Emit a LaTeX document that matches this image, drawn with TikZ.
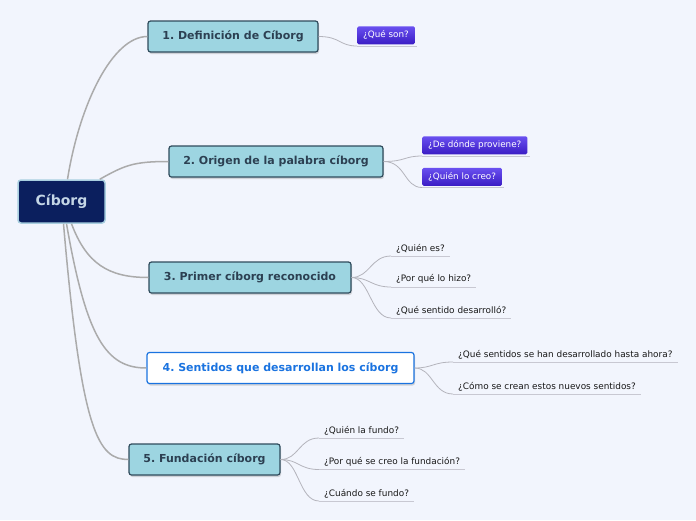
\documentclass[tikz,border=0pt]{standalone}
\usepackage{fontspec}
\setmainfont{DejaVu Sans}
\frenchspacing
\usetikzlibrary{shadows}
\definecolor{bg}{HTML}{F2F5FD}
\definecolor{rootfill}{HTML}{0B1F5E}
\definecolor{rootline}{HTML}{A9CFE0}
\definecolor{roottext}{HTML}{C4D6E6}
\definecolor{topicfill}{HTML}{9DD5E1}
\definecolor{topicline}{HTML}{2F4B5C}
\definecolor{topictext}{HTML}{2C4052}
\definecolor{selblue}{HTML}{1A73E0}
\definecolor{purpA}{HTML}{6A50F0}
\definecolor{purpB}{HTML}{3A1CC4}
\definecolor{mainline}{HTML}{ABABAB}
\definecolor{leafline}{HTML}{B4B4BC}
\definecolor{underl}{HTML}{C8C8D2}
\begin{document}
\begin{tikzpicture}[x=1pt,y=-1pt,
	root/.style={draw=rootline,fill=rootfill,line width=1.5pt,rounded corners=3pt,text=roottext,
		font=\fontsize{14}{16}\selectfont\bfseries,minimum width=87pt,minimum height=43pt},
	topic/.style={draw=topicline,fill=topicfill,line width=1.2pt,rounded corners=2.5pt,text=topictext,
		font=\fontsize{11}{13}\selectfont\bfseries,minimum height=31pt,
		drop shadow={shadow xshift=1pt,shadow yshift=-2pt,opacity=0.3}},
	sel/.style={topic,draw=selblue,fill=white,text=selblue},
	purp/.style={top color=purpA,bottom color=purpB,rounded corners=1.5pt,text=white,
		font=\fontsize{8.8}{10}\selectfont,inner xsep=6pt,minimum height=18pt,anchor=south west},
	leaf/.style={font=\fontsize{8.9}{10}\selectfont,text=black!90,inner xsep=5pt,inner ysep=3pt,anchor=south west},
	mline/.style={draw=mainline,line width=1.5pt},
	lline/.style={draw=leafline,line width=0.8pt},
	uline/.style={draw=underl,line width=1pt}]
	\path[use as bounding box,fill=bg] (0,0) rectangle (696,520);
	% main topics
	\node[root] (C) at (61.5,201.5) {Cíborg};
	\node[topic,minimum width=170pt] (t1) at (233,36.5) {1. Definición de Cíborg};
	\node[topic,minimum width=214pt] (t2) at (276,161.5) {2. Origen de la palabra cíborg};
	\node[topic,minimum width=202pt] (t3) at (250,277.5) {3. Primer cíborg reconocido};
	\node[sel,minimum width=267pt] (t4) at (280.5,368) {4. Sentidos que desarrollan los cíborg};
	\node[topic,minimum width=151pt] (t5) at (204.5,459.5) {5. Fundación cíborg};
	\draw[mline] ([xshift=6pt]C.north) .. controls +(12,-75) and +(-35,0) .. (t1.west);
	\draw[mline] ([xshift=-6pt]C.north east) .. controls +(25,-14) and +(-35,0) .. (t2.west);
	\draw[mline] ([xshift=10pt]C.south) .. controls +(15,40) and +(-40,0) .. (t3.west);
	\draw[mline] ([xshift=5pt]C.south) .. controls +(20,115) and +(-40,0) .. (t4.west);
	\draw[mline] ([xshift=2pt]C.south) .. controls +(18,210) and +(-30,0) .. (t5.west);
	% purple subtopics
	\foreach \p/\n/\x/\y/\t in {t1/a/357/44.5/¿Qué son?, t2/a/422/154.5/¿De dónde proviene?, t2/b/422/186/¿Quién lo creo?}{
		\node[purp] (\p\n) at (\x,\y) {\t};
		\draw[lline] (\p.east) .. controls +(22,0) and +(-18,0) .. ([yshift=-1.5pt]\p\n.south west);
		\draw[uline] ([yshift=-1.5pt]\p\n.south west) -- ([xshift=2pt,yshift=-1.5pt]\p\n.south east);
	}
	% plain subtopics
	\foreach \p/\n/\x/\y/\t in {t3/a/391/256/¿Quién es?, t3/b/391/287/¿Por qué lo hizo?, t3/c/391/318/¿Qué sentido desarrolló?,
		t4/a/453/362/¿Qué sentidos se han desarrollado hasta ahora?, t4/b/453/394/¿Cómo se crean estos nuevos sentidos?,
		t5/a/319/438/¿Quién la fundo?, t5/b/319/469.5/¿Por qué se creo la fundación?, t5/c/319/501/¿Cuándo se fundo?}{
		\node[leaf] (\p\n) at (\x,\y) {\t};
		\draw[lline] (\p.east) .. controls +(18,0) and +(-20,0) .. (\p\n.south west);
		\draw[uline] (\p\n.south west) -- (\p\n.south east);
	}
\end{tikzpicture}
\end{document}
